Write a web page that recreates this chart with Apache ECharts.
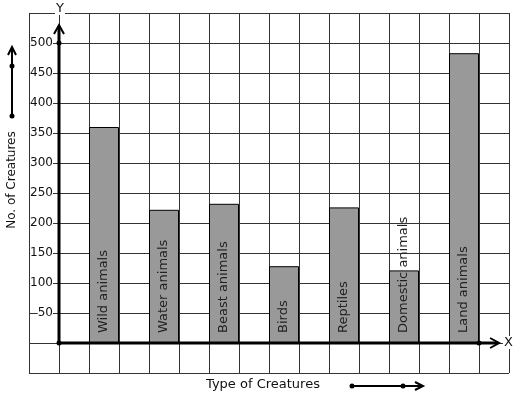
<!DOCTYPE html>
<html>
<head>
<meta charset="utf-8">
<script src="https://cdn.jsdelivr.net/npm/echarts@6/dist/echarts.min.js"></script>
<style>html,body{margin:0;padding:0;background:#fff}#chart{width:517px;height:399px}</style>
</head>
<body>
<div id="chart"></div>
<script>
var categories = ['Wild animals', 'Water animals', 'Beast animals', 'Birds', 'Reptiles', 'Domestic animals', 'Land animals'];
var values = [360, 222, 232, 128, 226, 121, 483];
var yTicks = [50, 100, 150, 200, 250, 300, 350, 400, 450, 500];

var font = 'DejaVu Sans';
var myChart = echarts.init(document.getElementById('chart'));

// one bar in every second grid cell, starting one cell right of the Y axis
var barData = values.map(function (v, i) {
    return { name: categories[i], value: [1.5 + 2 * i, v] };
});

function chevron(tip, dx, dy, horiz) {
    // open arrow head drawn as two strokes
    if (horiz) return [[tip[0] - dx, tip[1] - dy], tip, [tip[0] - dx, tip[1] + dy]];
    return [[tip[0] - dx, tip[1] + dy], tip, [tip[0] + dx, tip[1] + dy]];
}

option = {
    animation: false,
    textStyle: { fontFamily: font },
    grid: { left: 29, top: 13, width: 480, height: 360, outerBoundsMode: 'none', containLabel: false },
    xAxis: {
        type: 'value', min: -1, max: 15, interval: 1,
        axisLine: { show: false, onZero: false },
        axisTick: { show: false },
        axisLabel: { show: false },
        splitLine: { show: true, lineStyle: { color: '#333', width: 1 } }
    },
    yAxis: {
        type: 'value', min: -50, max: 550, interval: 50,
        // labels sit beside the drawn Y axis, one cell in from the grid edge
        offset: -30,
        axisLine: { show: false, onZero: false },
        axisTick: { show: false },
        axisLabel: {
            margin: 6, fontSize: 12, color: '#111', fontFamily: font,
            backgroundColor: '#fff',
            formatter: function (v) { return yTicks.indexOf(v) >= 0 ? String(v) : ''; }
        },
        splitLine: { show: true, lineStyle: { color: '#333', width: 1 } }
    },
    series: [
        {
            type: 'bar',
            data: barData,
            barWidth: 30,
            itemStyle: { color: '#999999', borderColor: '#000', borderWidth: 1 },
            label: {
                show: true, position: 'insideBottom', rotate: 90,
                align: 'left', verticalAlign: 'middle', distance: 10,
                fontSize: 13, color: '#222', fontFamily: font,
                formatter: '{b}'
            }
        },
        {
            type: 'custom',
            z: 5,
            data: [[0, 0]],
            renderItem: function (params, api) {
                var o = api.coord([0, 0]);
                var yTip = api.coord([0, 530]);
                var xTip = api.coord([14.67, 0]);
                var d500 = api.coord([0, 500]);
                var d14 = api.coord([14, 0]);
                var s = { stroke: '#000', lineWidth: 3, fill: null };
                var h = { stroke: '#000', lineWidth: 2, fill: null };
                return {
                    type: 'group',
                    children: [
                        { type: 'line', shape: { x1: o[0], y1: o[1], x2: yTip[0], y2: yTip[1] + 1 }, style: s },
                        { type: 'line', shape: { x1: o[0], y1: o[1], x2: xTip[0] - 1, y2: xTip[1] }, style: s },
                        { type: 'polyline', shape: { points: chevron(yTip, 5, 9, false) }, style: h },
                        { type: 'polyline', shape: { points: chevron(xTip, 9, 5, true) }, style: h },
                        { type: 'circle', shape: { cx: o[0], cy: o[1], r: 2.5 }, style: { fill: '#000' } },
                        { type: 'circle', shape: { cx: d500[0], cy: d500[1], r: 2.5 }, style: { fill: '#000' } },
                        { type: 'circle', shape: { cx: d14[0], cy: d14[1], r: 2.5 }, style: { fill: '#000' } }
                    ]
                };
            }
        }
    ],
    graphic: [
        { type: 'text', left: 55, top: 2, z: 10,
          style: { text: 'Y', fontSize: 13, fontFamily: font, fill: '#111', backgroundColor: '#fff', padding: [0, 1] } },
        { type: 'text', left: 503, top: 336, z: 10,
          style: { text: 'X', fontSize: 13, fontFamily: font, fill: '#111', backgroundColor: '#fff', padding: [0, 1] } },
        { type: 'text', x: 12, y: 180, rotation: Math.PI / 2, z: 10,
          style: { text: 'No. of Creatures', fontSize: 12, fontFamily: font, fill: '#111', align: 'center', verticalAlign: 'middle' } },
        { type: 'text', x: 206, y: 385, z: 10,
          style: { text: 'Type of Creatures', fontSize: 13, fontFamily: font, fill: '#111', align: 'left', verticalAlign: 'middle' } },
        // left decorative arrow
        { type: 'line', shape: { x1: 12, y1: 116, x2: 12, y2: 48 }, style: { stroke: '#000', lineWidth: 2 } },
        { type: 'polyline', shape: { points: chevron([12, 47], 4, 8, false) }, style: { stroke: '#000', lineWidth: 2, fill: null } },
        { type: 'circle', shape: { cx: 12, cy: 66, r: 2.5 }, style: { fill: '#000' } },
        { type: 'circle', shape: { cx: 12, cy: 116, r: 2.5 }, style: { fill: '#000' } },
        // bottom decorative arrow
        { type: 'line', shape: { x1: 352, y1: 386, x2: 422, y2: 386 }, style: { stroke: '#000', lineWidth: 2 } },
        { type: 'polyline', shape: { points: chevron([423, 386], 8, 4, true) }, style: { stroke: '#000', lineWidth: 2, fill: null } },
        { type: 'circle', shape: { cx: 352, cy: 386, r: 2.5 }, style: { fill: '#000' } },
        { type: 'circle', shape: { cx: 403, cy: 386, r: 2.5 }, style: { fill: '#000' } }
    ]
};
myChart.setOption(option);
</script>
</body>
</html>
